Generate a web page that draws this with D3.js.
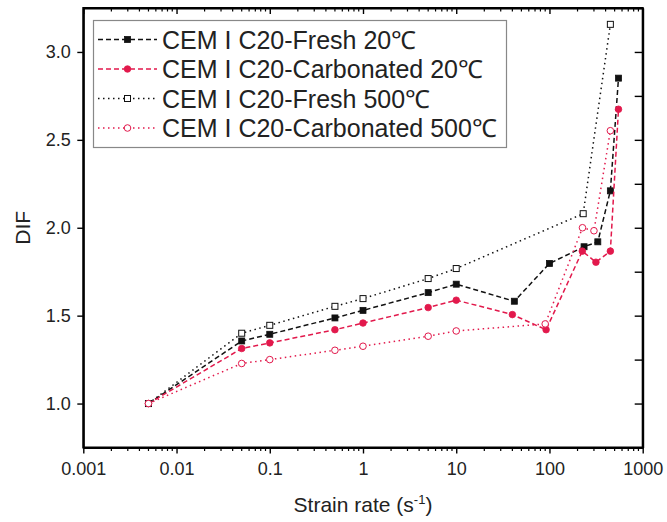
<!DOCTYPE html>
<html>
<head>
<meta charset="utf-8">
<script src="https://cdn.jsdelivr.net/npm/d3@7"></script>
<style>
body { margin: 0; background: #fff; }
svg { display: block; font-family: "Liberation Sans", Arial, sans-serif; }
</style>
</head>
<body>
<svg id="chart" width="667" height="522"></svg>
<script>
// données
var seriesNames = ["CEM I C20-Fresh 20℃", "CEM I C20-Carbonated 20℃", "CEM I C20-Fresh 500℃", "CEM I C20-Carbonated 500℃"];

var fresh20X = [0.005, 0.05, 0.1, 0.5, 1, 5, 10, 42, 100, 235, 330, 450, 550];
var fresh20Y = [1.0, 1.356, 1.394, 1.487, 1.53, 1.631, 1.679, 1.582, 1.797, 1.892, 1.92, 2.21, 2.851];

var carb20X = [0.005, 0.05, 0.1, 0.5, 1, 5, 10, 40, 92, 225, 315, 450, 550];
var carb20Y = [1.0, 1.313, 1.345, 1.42, 1.458, 1.546, 1.588, 1.506, 1.42, 1.867, 1.804, 1.867, 2.674];

var fresh500X = [0.005, 0.05, 0.1, 0.5, 1, 5, 10, 230, 450];
var fresh500Y = [1.0, 1.40, 1.445, 1.553, 1.597, 1.711, 1.768, 2.08, 3.157];

var carb500X = [0.005, 0.05, 0.1, 0.5, 1, 5, 10, 90, 226, 300, 450];
var carb500Y = [1.0, 1.228, 1.25, 1.303, 1.326, 1.383, 1.413, 1.453, 2.0, 1.983, 2.552];

var xTicks = [0.001, 0.01, 0.1, 1, 10, 100, 1000];
var xTickLabels = ["0.001", "0.01", "0.1", "1", "10", "100", "1000"];
var yTicks = [1.0, 1.5, 2.0, 2.5, 3.0];
var yMinorTicks = [0.75, 1.0, 1.25, 1.5, 1.75, 2.0, 2.25, 2.5, 2.75, 3.0, 3.25];

var red = "#e2194c";

var series = [
    {name: seriesNames[0], xs: fresh20X, ys: fresh20Y, color: "#111", dash: "5,3", marker: "square", fill: true},
    {name: seriesNames[1], xs: carb20X, ys: carb20Y, color: red, dash: "5,3", marker: "circle", fill: true},
    {name: seriesNames[2], xs: fresh500X, ys: fresh500Y, color: "#111", dash: "1.5,3.5", marker: "square", fill: false},
    {name: seriesNames[3], xs: carb500X, ys: carb500Y, color: red, dash: "1.5,3.5", marker: "circle", fill: false}
];

// attention: "top" est déjà pris par window
var pLeft = 83.3, pRight = 642.7, pTop = 8, pBottom = 447.5;

var x = d3.scaleLog().domain([0.001, 1000]).range([pLeft, pRight]);
var y = d3.scaleLinear().domain([0.75, 3.25]).range([pBottom, pTop]);

var svg = d3.select("#chart");

// minor ticks log: 2..9 de chaque décade
var minorX = [];
for (var e = -3; e < 3; e++) {
    for (var k = 2; k < 10; k++) minorX.push(k * Math.pow(10, e));
}

/////////////////////////
// axes
/////////////////////////
var bottomAxis = svg.append("g").attr("transform", "translate(0," + pBottom + ")");
bottomAxis.call(d3.axisBottom(x).tickValues(xTicks).tickFormat(function(d, i){ return xTickLabels[i]; }).tickSize(6).tickSizeOuter(0));
bottomAxis.append("g").selectAll("line").data(minorX).enter().append("line")
    .attr("x1", function(d){ return x(d); }).attr("x2", function(d){ return x(d); })
    .attr("y1", 0).attr("y2", 3.5).attr("stroke", "#000").attr("stroke-width", 1.2);

var topAxis = svg.append("g").attr("transform", "translate(0," + pTop + ")");
topAxis.call(d3.axisBottom(x).tickValues(xTicks).tickFormat("").tickSize(6).tickSizeOuter(0));
topAxis.append("g").selectAll("line").data(minorX).enter().append("line")
    .attr("x1", function(d){ return x(d); }).attr("x2", function(d){ return x(d); })
    .attr("y1", 0).attr("y2", 3.5).attr("stroke", "#000").attr("stroke-width", 1.2);

var leftAxis = svg.append("g").attr("transform", "translate(" + pLeft + ",0)");
leftAxis.call(d3.axisLeft(y).tickValues(yTicks).tickFormat(d3.format(".1f")).tickSize(6).tickSizeOuter(0));

var rightAxis = svg.append("g").attr("transform", "translate(" + pRight + ",0)");
rightAxis.call(d3.axisLeft(y).tickValues(yMinorTicks).tickFormat("").tickSize(8).tickSizeOuter(0));

svg.selectAll(".domain").attr("stroke", "#000").attr("stroke-width", 2);
svg.selectAll(".tick line").attr("stroke", "#000").attr("stroke-width", 1.4);
svg.selectAll(".tick text").attr("font-family", "Liberation Sans, Arial, sans-serif").attr("font-size", "18px").attr("fill", "#222");
bottomAxis.selectAll(".tick text").attr("dy", "1.0em");
leftAxis.selectAll(".tick text").attr("dx", "-0.2em");

// cadre complet
svg.append("rect").attr("x", pLeft).attr("y", pTop).attr("width", pRight - pLeft).attr("height", pBottom - pTop)
    .attr("fill", "none").attr("stroke", "#000").attr("stroke-width", 2);

// titres
svg.append("text")
    .attr("x", (pLeft + pRight) / 2).attr("y", 512)
    .attr("text-anchor", "middle").attr("font-size", "21px").attr("fill", "#222")
    .html('Strain rate (s<tspan dy="-8" font-size="13px">-1</tspan><tspan dy="8">)</tspan>');

svg.append("text")
    .attr("transform", "translate(30," + y(2.0) + ") rotate(-90)")
    .attr("text-anchor", "middle").attr("font-size", "21px").attr("fill", "#222")
    .text("DIF");

/////////////////////////
// séries
/////////////////////////
var line = d3.line().x(function(d){ return x(d[0]); }).y(function(d){ return y(d[1]); });

function drawMarker(g, type, color, fill, cx, cy) {
    if (type == "square") {
        g.append("rect").attr("x", cx - 3).attr("y", cy - 3).attr("width", 6).attr("height", 6)
            .attr("fill", fill ? color : "#fff").attr("stroke", color).attr("stroke-width", fill ? 0.8 : 1);
    } else {
        g.append("circle").attr("cx", cx).attr("cy", cy).attr("r", 3.3)
            .attr("fill", fill ? color : "#fff").attr("stroke", color).attr("stroke-width", fill ? 0.8 : 1);
    }
}

var plot = svg.append("g").attr("id", "series");
series.forEach(function(s){
    var pts = s.xs.map(function(v, i){ return [v, s.ys[i]]; });
    var g = plot.append("g");
    g.append("path").attr("d", line(pts))
        .attr("fill", "none").attr("stroke", s.color).attr("stroke-width", 1.5)
        .attr("stroke-dasharray", s.dash);
    pts.forEach(function(p){ drawMarker(g, s.marker, s.color, s.fill, x(p[0]), y(p[1])); });
});

/////////////////////////
// légende
/////////////////////////
var legend = svg.append("g").attr("id", "legend");
legend.append("rect").attr("x", 93.5).attr("y", 20.5).attr("width", 413).attr("height", 127)
    .attr("fill", "#fff").attr("stroke", "#888").attr("stroke-width", 1.2);

series.forEach(function(s, i){
    var ly = 39.5 + i * 29.5;
    legend.append("line").attr("x1", 98).attr("x2", 157).attr("y1", ly).attr("y2", ly)
        .attr("stroke", s.color).attr("stroke-width", 1.5).attr("stroke-dasharray", s.dash);
    drawMarker(legend, s.marker, s.color, s.fill, 127.5, ly);
    legend.append("text").attr("x", 162).attr("y", ly).attr("dy", "0.36em")
        .attr("font-size", "25px").attr("fill", "#222")
        .text(s.name);
});
</script>
</body>
</html>
